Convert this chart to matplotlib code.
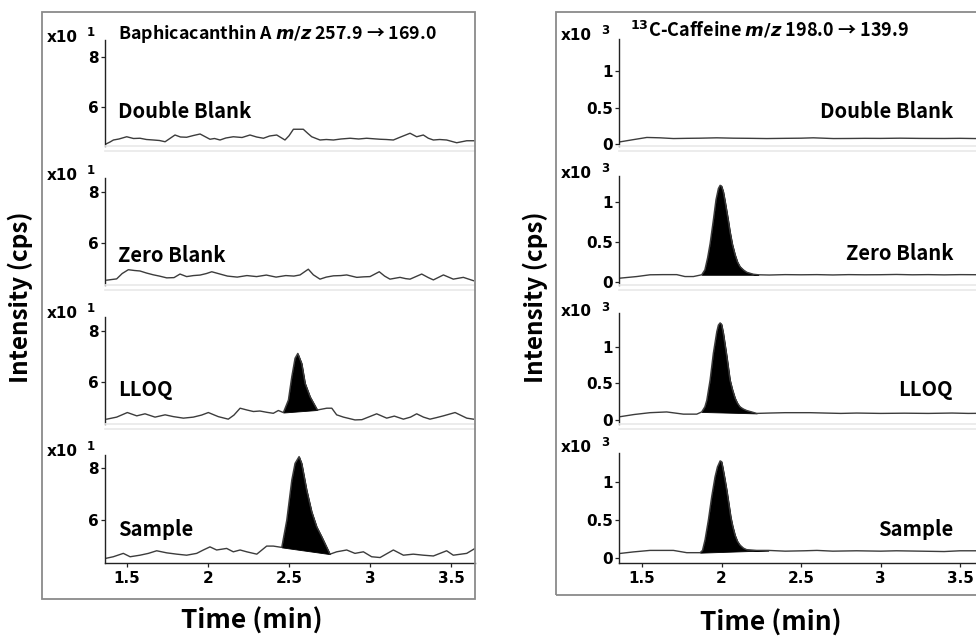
import numpy as np
import matplotlib
matplotlib.use("Agg")
import matplotlib.pyplot as plt
from matplotlib.patches import Rectangle

# ------------------------------------------------------------------ data
left_title = "Baphicacanthin A $\\mathit{m/z}$ 257.9 \u2192 169.0"
right_title = "$^{13}$C-Caffeine $\\mathit{m/z}$ 198.0 \u2192 139.9"
sample_names = ["Double Blank", "Zero Blank", "LLOQ", "Sample"]
x_label = "Time (min)"
y_label = "Intensity (cps)"
x_ticks = [1.5, 2, 2.5, 3, 3.5]
x_tick_labels = ["1.5", "2", "2.5", "3", "3.5"]
baph_y_ticks = [6, 8]
baph_y_tick_labels = ["6", "8"]
caff_y_ticks = [0, 0.5, 1]
caff_y_tick_labels = ["0", "0.5", "1"]
baph_exponent = "1"
caff_exponent = "3"

# Baphicacanthin A traces (x10^1 cps)
baph_double_t = [1.370, 1.395, 1.416, 1.45, 1.498, 1.54, 1.580, 1.62, 1.663, 1.70,
                 1.735, 1.796, 1.83, 1.868, 1.91, 1.951, 2.012, 2.04, 2.074, 2.11,
                 2.156, 2.21, 2.259, 2.30, 2.342, 2.38, 2.424, 2.475, 2.50, 2.527,
                 2.588, 2.615, 2.640, 2.691, 2.73, 2.774, 2.82, 2.877, 2.93, 2.979,
                 3.02, 3.062, 3.10, 3.144, 3.185, 3.247, 3.288, 3.329, 3.36, 3.391,
                 3.43, 3.473, 3.535, 3.597, 3.648]
baph_double_v = [4.52, 4.60, 4.68, 4.72, 4.81, 4.74, 4.75, 4.70, 4.68, 4.66,
                 4.61, 4.88, 4.80, 4.79, 4.86, 4.92, 4.71, 4.74, 4.68, 4.76,
                 4.81, 4.78, 4.88, 4.80, 4.75, 4.84, 4.88, 4.68, 4.85, 5.11,
                 5.11, 4.95, 4.81, 4.68, 4.70, 4.68, 4.72, 4.75, 4.72, 4.75,
                 4.73, 4.71, 4.70, 4.68, 4.79, 4.95, 4.81, 4.88, 4.75, 4.68,
                 4.70, 4.68, 4.57, 4.65, 4.65]

baph_zero_t = [1.375, 1.436, 1.470, 1.508, 1.545, 1.580, 1.62, 1.662, 1.70, 1.745,
               1.79, 1.827, 1.868, 1.91, 1.951, 1.99, 2.023, 2.074, 2.12, 2.18,
               2.24, 2.30, 2.36, 2.42, 2.48, 2.53, 2.568, 2.619, 2.65, 2.691,
               2.73, 2.774, 2.82, 2.856, 2.918, 2.96, 3.0, 3.057, 3.09, 3.123,
               3.185, 3.22, 3.247, 3.319, 3.36, 3.391, 3.453, 3.514, 3.576, 3.638]
baph_zero_v = [4.54, 4.59, 4.80, 4.95, 4.92, 4.90, 4.82, 4.75, 4.70, 4.63,
               4.64, 4.78, 4.68, 4.72, 4.74, 4.80, 4.87, 4.78, 4.70, 4.66,
               4.72, 4.68, 4.74, 4.66, 4.72, 4.70, 4.745, 4.97, 4.75, 4.58,
               4.66, 4.71, 4.72, 4.745, 4.65, 4.67, 4.68, 4.87, 4.70, 4.58,
               4.65, 4.60, 4.58, 4.78, 4.64, 4.55, 4.745, 4.58, 4.65, 4.52]

baph_lloq_t = [1.375, 1.436, 1.502, 1.560, 1.611, 1.673, 1.735, 1.786, 1.848, 1.909,
               1.96, 2.002, 2.063, 2.125, 2.16, 2.198, 2.24, 2.28, 2.32, 2.362,
               2.403, 2.434, 2.465, 2.496, 2.517, 2.537, 2.554, 2.578, 2.599, 2.630,
               2.675, 2.733, 2.764, 2.794, 2.836, 2.907, 2.95, 3.041, 3.103, 3.15,
               3.206, 3.25, 3.288, 3.33, 3.370, 3.41, 3.453, 3.525, 3.597, 3.638]
baph_lloq_v = [4.54, 4.62, 4.80, 4.67, 4.75, 4.62, 4.71, 4.64, 4.58, 4.62,
               4.70, 4.80, 4.64, 4.54, 4.70, 4.97, 4.90, 4.84, 4.86, 4.81,
               4.77, 4.88, 4.80, 5.29, 6.21, 6.93, 7.12, 6.73, 5.95, 5.42,
               4.90, 4.97, 4.97, 4.71, 4.62, 4.51, 4.52, 4.75, 4.58, 4.66,
               4.54, 4.62, 4.75, 4.62, 4.54, 4.60, 4.67, 4.80, 4.58, 4.54]
baph_lloq_peak = (2.465, 2.675)

baph_sample_t = [1.370, 1.415, 1.477, 1.519, 1.580, 1.632, 1.683, 1.745, 1.807, 1.868,
                 1.930, 1.971, 2.012, 2.053, 2.115, 2.156, 2.198, 2.239, 2.301, 2.362,
                 2.403, 2.455, 2.486, 2.517, 2.537, 2.562, 2.578, 2.609, 2.640, 2.671,
                 2.702, 2.753, 2.794, 2.856, 2.907, 2.959, 3.010, 3.062, 3.144, 3.206,
                 3.267, 3.329, 3.391, 3.473, 3.514, 3.597, 3.648]
baph_sample_v = [4.53, 4.59, 4.72, 4.59, 4.65, 4.72, 4.82, 4.74, 4.69, 4.65,
                 4.72, 4.85, 4.97, 4.85, 4.91, 4.78, 4.85, 4.78, 4.69, 5.00,
                 5.00, 4.95, 6.00, 7.54, 8.18, 8.44, 8.18, 7.15, 6.32, 5.74,
                 5.36, 4.69, 4.78, 4.85, 4.72, 4.78, 4.59, 4.56, 4.85, 4.65,
                 4.69, 4.65, 4.62, 4.82, 4.65, 4.72, 4.91]
baph_sample_peak = (2.455, 2.753)

# 13C-Caffeine traces (x10^3 cps)
caff_double_t = [1.362, 1.445, 1.530, 1.613, 1.697, 1.78, 1.865, 1.97, 2.074, 2.18,
                 2.284, 2.40, 2.50, 2.577, 2.64, 2.703, 2.80, 2.90, 3.0, 3.123,
                 3.25, 3.40, 3.50, 3.594, 3.68]
caff_double_v = [0.03, 0.06, 0.09, 0.085, 0.075, 0.078, 0.08, 0.085, 0.08, 0.078,
                 0.075, 0.078, 0.08, 0.085, 0.08, 0.075, 0.076, 0.078, 0.077, 0.08,
                 0.077, 0.076, 0.078, 0.075, 0.075]

caff_zero_t = [1.362, 1.467, 1.550, 1.63, 1.718, 1.770, 1.823, 1.875, 1.895, 1.912,
               1.928, 1.948, 1.965, 1.980, 1.991, 2.000, 2.011, 2.022, 2.033, 2.043,
               2.053, 2.068, 2.085, 2.100, 2.116, 2.137, 2.158, 2.20, 2.232, 2.30,
               2.40, 2.50, 2.60, 2.70, 2.80, 2.90, 3.0, 3.10, 3.20, 3.30,
               3.40, 3.50, 3.60, 3.68]
caff_zero_v = [0.046, 0.066, 0.088, 0.09, 0.09, 0.066, 0.066, 0.088, 0.15, 0.30,
               0.48, 0.77, 1.03, 1.17, 1.21, 1.20, 1.13, 1.01, 0.88, 0.76,
               0.63, 0.47, 0.34, 0.25, 0.19, 0.15, 0.12, 0.095, 0.088, 0.085,
               0.09, 0.088, 0.09, 0.086, 0.09, 0.088, 0.089, 0.092, 0.088, 0.09,
               0.087, 0.09, 0.089, 0.09]
caff_zero_peak = (1.875, 2.232)

caff_lloq_t = [1.362, 1.45, 1.55, 1.655, 1.760, 1.844, 1.875, 1.895, 1.907, 1.928,
               1.948, 1.970, 1.980, 1.991, 2.000, 2.011, 2.022, 2.033, 2.043, 2.053,
               2.068, 2.085, 2.100, 2.116, 2.137, 2.158, 2.19, 2.221, 2.30, 2.40,
               2.557, 2.65, 2.75, 2.85, 3.0, 3.15, 3.3, 3.45, 3.55, 3.68]
caff_lloq_v = [0.045, 0.075, 0.10, 0.11, 0.08, 0.08, 0.11, 0.18, 0.27, 0.55,
               0.91, 1.21, 1.30, 1.33, 1.31, 1.19, 1.03, 0.87, 0.71, 0.55,
               0.42, 0.30, 0.23, 0.18, 0.15, 0.13, 0.11, 0.09, 0.095, 0.10,
               0.10, 0.095, 0.09, 0.095, 0.09, 0.093, 0.09, 0.095, 0.09, 0.092]
caff_lloq_peak = (1.875, 2.221)

caff_sample_t = [1.362, 1.445, 1.550, 1.697, 1.781, 1.865, 1.880, 1.896, 1.917, 1.938,
                 1.959, 1.974, 1.991, 2.000, 2.007, 2.020, 2.033, 2.046, 2.058, 2.070,
                 2.085, 2.100, 2.116, 2.137, 2.158, 2.22, 2.295, 2.40, 2.52, 2.60,
                 2.70, 2.85, 3.0, 3.10, 3.25, 3.40, 3.50, 3.68]
caff_sample_v = [0.06, 0.08, 0.10, 0.10, 0.07, 0.07, 0.10, 0.24, 0.50, 0.81,
                 1.07, 1.20, 1.28, 1.27, 1.20, 1.05, 0.89, 0.71, 0.54, 0.42,
                 0.30, 0.22, 0.17, 0.13, 0.11, 0.10, 0.10, 0.09, 0.095, 0.10,
                 0.09, 0.095, 0.09, 0.095, 0.09, 0.085, 0.095, 0.095]
caff_sample_peak = (1.865, 2.295)

baph_traces = [(baph_double_t, baph_double_v, None),
               (baph_zero_t, baph_zero_v, None),
               (baph_lloq_t, baph_lloq_v, baph_lloq_peak),
               (baph_sample_t, baph_sample_v, baph_sample_peak)]
caff_traces = [(caff_double_t, caff_double_v, None),
               (caff_zero_t, caff_zero_v, caff_zero_peak),
               (caff_lloq_t, caff_lloq_v, caff_lloq_peak),
               (caff_sample_t, caff_sample_v, caff_sample_peak)]

# ------------------------------------------------------------------ layout
W, H = 976, 639
plt.rcParams["font.family"] = ["Noto Sans CJK KR", "DejaVu Sans"]
plt.rcParams["mathtext.fontset"] = "custom"
plt.rcParams["mathtext.it"] = "DejaVu Sans:italic:bold"
plt.rcParams["mathtext.rm"] = "DejaVu Sans:bold"

fig = plt.figure(figsize=(W / 100, H / 100), dpi=100)


def fx(x):
    return x / W


def fy(y):
    return 1 - y / H


panel_tops = [14, 151, 290, 429]
panel_bots = [146, 285, 424, 563]

left_x = (105, 475)
right_x = (619, 989)
left_xlim = (1.364, 3.648)
right_xlim = (1.355, 3.682)

left_ylims = [(4.44, 9.72), (4.35, 9.61), (4.35, 9.61), (4.35, 9.50)]
left_spine_top = [8.68, 8.55, 8.55, 8.50]
right_ylims = [(-0.027, 1.78), (-0.04, 1.64), (-0.055, 1.78), (-0.066, 1.70)]
right_spine_top = [1.44, 1.325, 1.47, 1.39]

tick_font = dict(family="DejaVu Sans", weight="bold", size=11)
line_color = "#3c3c3c"
sep_color = "#e9e9e9"

# outer frames
fig.patches.append(Rectangle((fx(42), fy(599)), (475 - 42) / W, (599 - 12) / H,
                             transform=fig.transFigure, fill=False,
                             edgecolor="#8a8a8a", lw=1.3, zorder=0))
fig.patches.append(Rectangle((fx(556), fy(595)), (1000 - 556) / W, (595 - 12) / H,
                             transform=fig.transFigure, fill=False,
                             edgecolor="#8a8a8a", lw=1.3, zorder=0))


def draw_panel(xr, top, bot, xlim, ylim, spine_top, data, yticks, yticklabels, first, last):
    ax = fig.add_axes([fx(xr[0]), fy(bot), (xr[1] - xr[0]) / W, (bot - top) / H])
    ax.patch.set_alpha(0)
    t, v, peak = data
    t = np.asarray(t, float)
    v = np.asarray(v, float)
    ax.plot(t, v, color=line_color, lw=1.0, solid_joinstyle="round")
    if peak is not None:
        m = (t >= peak[0]) & (t <= peak[1])
        ends = np.interp(peak, t, v)
        base = np.interp(t[m], peak, ends)
        ax.fill_between(t[m], base, v[m], color="black", lw=0.6, edgecolor="black")
    ax.set_xlim(*xlim)
    ax.set_ylim(*ylim)
    ax.spines["right"].set_visible(False)
    if first:
        ax.spines["top"].set_visible(False)
    else:
        ax.spines["top"].set_color(sep_color)
        ax.spines["top"].set_linewidth(1.2)
    ax.spines["left"].set_bounds(ylim[0], spine_top)
    ax.spines["left"].set_color("#222222")
    ax.spines["left"].set_linewidth(1.0)
    ax.set_yticks(yticks)
    ax.set_yticklabels(yticklabels, fontdict=tick_font)
    ax.tick_params(axis="y", length=3, width=0.9, pad=1.5, color="#222222")
    if last:
        ax.spines["bottom"].set_color("#222222")
        ax.spines["bottom"].set_linewidth(1.0)
        ax.set_xticks(x_ticks)
        ax.set_xticklabels(x_tick_labels, fontdict=tick_font)
        ax.tick_params(axis="x", length=3, width=0.9, pad=3, color="#222222")
    else:
        ax.spines["bottom"].set_color(sep_color)
        ax.spines["bottom"].set_linewidth(1.2)
        ax.set_xticks([])
    return ax


label_font = dict(weight="bold", size=14.5)
left_label_y = [111, 255, 390, 530]
right_label_y = [111, 254, 390, 530]
left_exp_y = [38, 176, 314, 451]
right_exp_y = [35, 173, 312, 448]

for i in range(4):
    first = i == 0
    last = i == 3
    draw_panel(left_x, panel_tops[i], panel_bots[i], left_xlim, left_ylims[i],
               left_spine_top[i], baph_traces[i], baph_y_ticks, baph_y_tick_labels,
               first, last)
    draw_panel(right_x, panel_tops[i], panel_bots[i], right_xlim, right_ylims[i],
               right_spine_top[i], caff_traces[i], caff_y_ticks, caff_y_tick_labels,
               first, last)
    fig.text(fx(118), fy(left_label_y[i]), sample_names[i], ha="left", va="center",
             **label_font)
    fig.text(fx(953), fy(right_label_y[i]), sample_names[i], ha="right", va="center",
             **label_font)
    # exponent markers
    fig.text(fx(47), fy(left_exp_y[i]), "x10", ha="left", va="center",
             family="DejaVu Sans", weight="bold", size=11)
    fig.text(fx(87), fy(left_exp_y[i] - 5), baph_exponent, ha="left", va="center",
             family="DejaVu Sans", weight="bold", size=8.5)
    fig.text(fx(561), fy(right_exp_y[i]), "x10", ha="left", va="center",
             family="DejaVu Sans", weight="bold", size=11)
    fig.text(fx(601), fy(right_exp_y[i] - 5), caff_exponent, ha="left", va="center",
             family="DejaVu Sans", weight="bold", size=8.5)

fig.text(fx(118), fy(34), left_title, ha="left", va="center", weight="bold", size=12.8)
fig.text(fx(630), fy(30), right_title, ha="left", va="center", weight="bold", size=13)

fig.text(fx(20), fy(297), y_label, rotation=90, ha="center", va="center",
         weight="bold", size=17.5)
fig.text(fx(535), fy(297), y_label, rotation=90, ha="center", va="center",
         weight="bold", size=17.5)
fig.text(fx(252), fy(621), x_label, ha="center", va="center", weight="bold", size=19)
fig.text(fx(771), fy(623), x_label, ha="center", va="center", weight="bold", size=19)

fig.savefig("out.png", dpi=100)
